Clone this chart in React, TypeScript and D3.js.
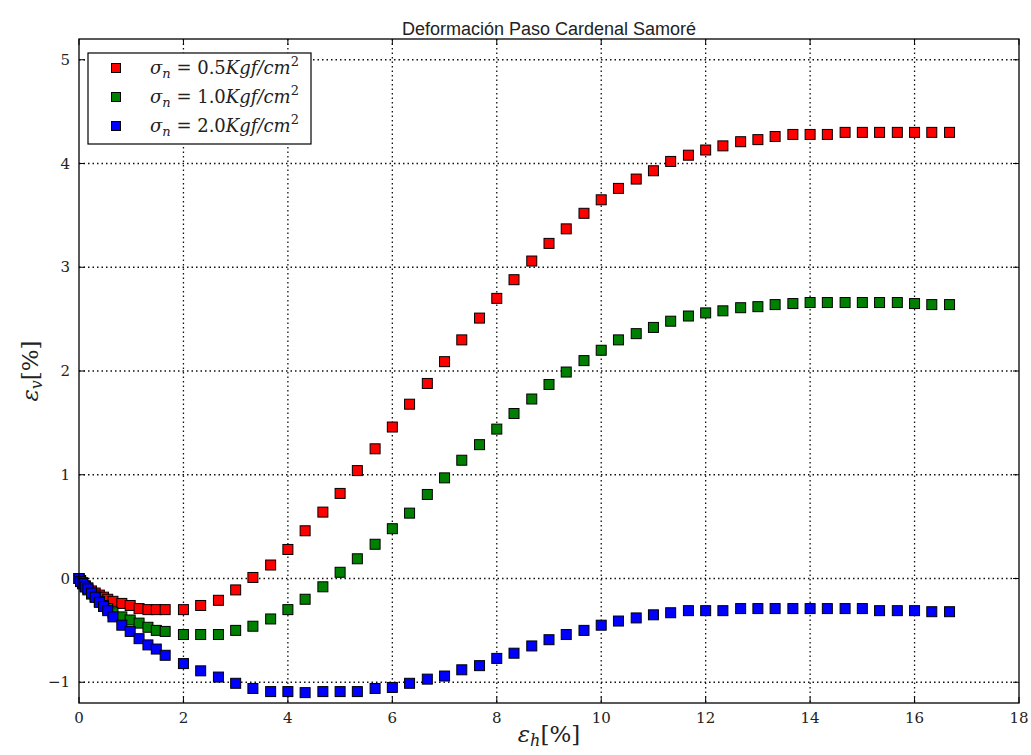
import React from "react";
import * as d3 from "d3";

const title = "Deformación Paso Cardenal Samoré";

const xTicks = [0, 2, 4, 6, 8, 10, 12, 14, 16, 18];
const yTicks = [-1, 0, 1, 2, 3, 4, 5];

const xValues = [
  0, 0.03, 0.07, 0.12, 0.17, 0.24, 0.31, 0.39, 0.47, 0.55, 0.65, 0.82, 0.98, 1.15, 1.32, 1.48, 1.65,
  2.0, 2.33, 2.67, 3.0, 3.33, 3.67, 4.0, 4.33, 4.67, 5.0, 5.33, 5.67, 6.0, 6.33, 6.67, 7.0, 7.33,
  7.67, 8.0, 8.33, 8.67, 9.0, 9.33, 9.67, 10.0, 10.33, 10.67, 11.0, 11.33, 11.67, 12.0, 12.33,
  12.67, 13.0, 13.33, 13.67, 14.0, 14.33, 14.67, 15.0, 15.33, 15.67, 16.0, 16.33, 16.67,
];

const redValues = [
  0, -0.02, -0.04, -0.07, -0.09, -0.12, -0.14, -0.16, -0.18, -0.2, -0.22, -0.24, -0.26, -0.29, -0.3, -0.3, -0.3,
  -0.3, -0.26, -0.21, -0.11, 0.01, 0.13, 0.28, 0.46, 0.64, 0.82, 1.04, 1.25, 1.46, 1.68, 1.88,
  2.09, 2.3, 2.51, 2.7, 2.88, 3.06, 3.23, 3.37, 3.52, 3.65, 3.76, 3.85, 3.93, 4.02, 4.08,
  4.13, 4.17, 4.21, 4.23, 4.26, 4.28, 4.28, 4.28, 4.3, 4.3, 4.3, 4.3, 4.3, 4.3, 4.3,
];

const greenValues = [
  0, -0.02, -0.05, -0.08, -0.11, -0.15, -0.18, -0.22, -0.26, -0.29, -0.33, -0.37, -0.4, -0.43, -0.47, -0.5, -0.51,
  -0.54, -0.54, -0.54, -0.5, -0.46, -0.39, -0.3, -0.2, -0.08, 0.06, 0.19, 0.33, 0.48, 0.63, 0.81,
  0.97, 1.14, 1.29, 1.44, 1.59, 1.73, 1.87, 1.99, 2.1, 2.2, 2.3, 2.36, 2.42, 2.48, 2.53,
  2.56, 2.58, 2.61, 2.62, 2.64, 2.65, 2.66, 2.66, 2.66, 2.66, 2.66, 2.66, 2.65, 2.64, 2.64,
];

const blueValues = [
  0, -0.03, -0.05, -0.08, -0.1, -0.14, -0.18, -0.23, -0.27, -0.31, -0.37, -0.45, -0.51, -0.58, -0.64, -0.68, -0.74,
  -0.82, -0.89, -0.95, -1.01, -1.06, -1.09, -1.09, -1.1, -1.09, -1.09, -1.09, -1.06, -1.05, -1.01, -0.97,
  -0.94, -0.88, -0.84, -0.77, -0.72, -0.65, -0.59, -0.54, -0.5, -0.45, -0.41, -0.38, -0.35, -0.33, -0.31,
  -0.31, -0.31, -0.29, -0.29, -0.29, -0.29, -0.29, -0.29, -0.29, -0.29, -0.31, -0.31, -0.31, -0.32, -0.32,
];

const seriesNames = ["0.5", "1.0", "2.0"];
const seriesColors = ["#ff0000", "#008000", "#0000ff"];
const seriesValues = [redValues, greenValues, blueValues];

const W = 1031;
const H = 755;
const left = 79;
const right = 1019;
const top = 39;
const bottom = 703;

export default function App() {
  const x = d3.scaleLinear().domain([0, 18]).range([left, right]);
  const y = d3.scaleLinear().domain([-1.2, 5.2]).range([bottom, top]);
  const serif = "'DejaVu Serif', 'Liberation Serif', serif";
  const ms = 10;
  const tick = 6;

  return (
    <svg
      width={W}
      height={H}
      style={{ position: "absolute", left: 0, top: 0, background: "#fff" }}
      xmlns="http://www.w3.org/2000/svg"
    >
      <rect x={0} y={0} width={W} height={H} fill="#fff" />
      <text
        x={(left + right) / 2}
        y={35}
        textAnchor="middle"
        fontFamily="'Liberation Sans', Arial, sans-serif"
        fontSize={18}
        fill="#222"
      >
        {title}
      </text>

      {/* grid */}
      <g stroke="#111" strokeWidth={1.3} strokeDasharray="1.5 3">
        {xTicks.filter((t) => t > 0 && t < 18).map((t) => (
          <line key={"gx" + t} x1={x(t)} x2={x(t)} y1={top} y2={bottom} />
        ))}
        {yTicks.map((t) => (
          <line key={"gy" + t} x1={left} x2={right} y1={y(t)} y2={y(t)} />
        ))}
      </g>

      {/* data */}
      {seriesValues.map((vals, si) => (
        <g key={"s" + si}>
          {vals.map((v, i) => (
            <rect
              key={i}
              x={x(xValues[i]) - ms / 2}
              y={y(v) - ms / 2}
              width={ms}
              height={ms}
              fill={seriesColors[si]}
              stroke="#000"
              strokeWidth={1}
            />
          ))}
        </g>
      ))}

      {/* frame */}
      <rect x={left} y={top} width={right - left} height={bottom - top} fill="none" stroke="#000" strokeWidth={1.3} />

      {/* ticks */}
      <g stroke="#000" strokeWidth={1}>
        {xTicks.map((t) => (
          <g key={"tx" + t}>
            <line x1={x(t)} x2={x(t)} y1={bottom} y2={bottom - tick} />
            <line x1={x(t)} x2={x(t)} y1={top} y2={top + tick} />
          </g>
        ))}
        {yTicks.map((t) => (
          <g key={"ty" + t}>
            <line x1={left} x2={left + tick} y1={y(t)} y2={y(t)} />
            <line x1={right} x2={right - tick} y1={y(t)} y2={y(t)} />
          </g>
        ))}
      </g>

      {/* tick labels */}
      <g fontFamily={serif} fontSize={15} fill="#222">
        {xTicks.map((t) => (
          <text key={"lx" + t} x={x(t)} y={bottom + 20} textAnchor="middle">
            {String(t)}
          </text>
        ))}
        {yTicks.map((t) => (
          <text key={"ly" + t} x={left - 9} y={y(t) + 5} textAnchor="end">
            {t < 0 ? "\u2212" + Math.abs(t) : String(t)}
          </text>
        ))}
      </g>

      {/* axis labels */}
      <text x={(left + right) / 2} y={742} textAnchor="middle" fontFamily={serif} fontSize={23} fill="#222">
        <tspan fontStyle="italic">ε</tspan>
        <tspan fontStyle="italic" fontSize={16} dy={4}>h</tspan>
        <tspan dy={-4}>[%]</tspan>
      </text>
      <text
        transform={`translate(38, ${(top + bottom) / 2}) rotate(-90)`}
        textAnchor="middle"
        fontFamily={serif}
        fontSize={23}
        fill="#222"
      >
        <tspan fontStyle="italic">ε</tspan>
        <tspan fontStyle="italic" fontSize={16} dy={4}>v</tspan>
        <tspan dy={-4}>[%]</tspan>
      </text>

      {/* legend */}
      <g>
        <rect x={88} y={53} width={223} height={91} fill="#fff" stroke="#000" strokeWidth={1.2} />
        {seriesNames.map((n, i) => {
          const cy = 68 + i * 29;
          return (
            <g key={"lg" + i}>
              <rect x={116 - 4.5} y={cy - 4.5} width={9} height={9} fill={seriesColors[i]} stroke="#000" strokeWidth={1} />
              <text x={150} y={cy + 6} fontFamily={serif} fontSize={18} fill="#222">
                <tspan fontStyle="italic">σ</tspan>
                <tspan fontStyle="italic" fontSize={13} dy={4}>n</tspan>
                <tspan dy={-4}>{" = " + n}</tspan>
                <tspan fontStyle="italic">Kgf/cm</tspan>
                <tspan fontSize={13} dy={-8}>2</tspan>
              </text>
            </g>
          );
        })}
      </g>
    </svg>
  );
}
